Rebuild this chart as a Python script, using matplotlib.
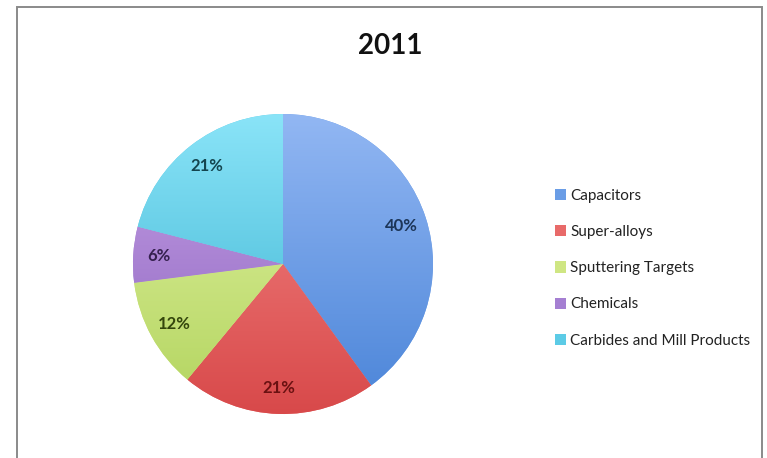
import numpy as np
import matplotlib
matplotlib.use("Agg")
import matplotlib.pyplot as plt
from matplotlib.colors import to_rgb
from matplotlib.patches import Rectangle

# data
categories = ['Capacitors', 'Super-alloys', 'Sputtering Targets', 'Chemicals',
              'Carbides and Mill Products']
shares = [40, 21, 12, 6, 21]

# Excel-2007 style colours: light (top) -> dark (bottom) per slice
light_colors = ['#92b7f3', '#f58a88', '#e4f4a6', '#c8a2e6', '#8ae4f8']
dark_colors = ['#4a84d8', '#d8494a', '#b2d45e', '#8a62bf', '#37b0cf']
base_colors = ['#6a9de6', '#e86a69', '#cfe683', '#a57fd2', '#5ccbe6']
label_colors = ['#1c3558', '#6a1111', '#34460c', '#35204f', '#14454f']

plt.rcParams['font.family'] = ['Lato', 'DejaVu Sans']

fig = plt.figure(figsize=(7.67, 4.58), dpi=100)
fig.patch.set_facecolor('white')

# chart-area border
fig.patches.append(Rectangle((17 / 767, -0.05), (762 - 17) / 767, 1 - 7 / 458 + 0.05,
                             transform=fig.transFigure, fill=False,
                             edgecolor='#8a8a8a', lw=1.4))

ax = fig.add_axes([133 / 767, 1 - 414 / 458, 300 / 767, 300 / 458])
wedges, texts, autotexts = ax.pie(
    shares, colors=base_colors, startangle=90, counterclock=False,
    radius=1, autopct='%d%%', pctdistance=0.83,
    wedgeprops=dict(linewidth=0),
    textprops=dict(fontsize=12, fontweight='bold'))

# vertical gradient clipped to each slice
for w, c0, c1 in zip(wedges, light_colors, dark_colors):
    t = np.linspace(0, 1, 256)[:, None, None]
    grad = (1 - t) * np.array(to_rgb(c0)) + t * np.array(to_rgb(c1))
    im = ax.imshow(grad, extent=(-1, 1, -1, 1), origin='upper', aspect='auto',
                   zorder=w.get_zorder() + 0.1, interpolation='bilinear')
    im.set_clip_path(w)

for t, c in zip(autotexts, label_colors):
    t.set_color(c)
    t.set_zorder(10)

ax.set_xlim(-1, 1)
ax.set_ylim(-1, 1)
ax.set_aspect('equal')
ax.axis('off')

fig.text(390 / 767, 1 - 46 / 458, '2011', ha='center', va='center',
         fontsize=20, fontweight='bold', color='#111111')

leg = fig.legend(wedges, categories, loc='upper left',
                 bbox_to_anchor=(555 / 767, 1 - 189 / 458),
                 frameon=False, fontsize=11, handlelength=0.75, handleheight=0.75,
                 handletextpad=0.25, labelspacing=1.45, borderpad=0, borderaxespad=0)
for txt in leg.get_texts():
    txt.set_color('#222222')

fig.savefig('out.png', dpi=100)
